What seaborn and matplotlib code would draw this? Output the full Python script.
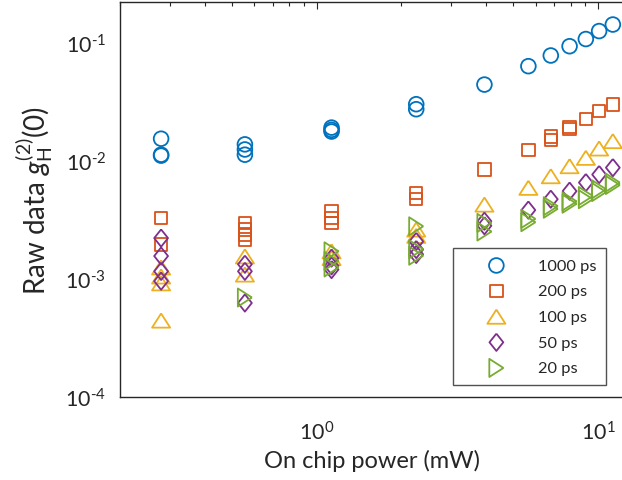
import matplotlib
matplotlib.use("Agg")
import matplotlib.pyplot as plt
import seaborn as sns
import pandas as pd
from matplotlib.ticker import LogLocator, NullFormatter, FixedLocator, FixedFormatter

# ---- data -------------------------------------------------------------
labels = ["1000 ps", "200 ps", "100 ps", "50 ps", "20 ps"]

x_1000 = [0.28, 0.28, 0.28, 0.556, 0.556, 0.556, 1.13, 1.13, 1.13, 2.26, 2.26,
          3.95, 5.66, 6.8, 7.93, 9.06, 10.1, 11.3]
y_1000 = [0.0153, 0.0112, 0.0110, 0.0137, 0.0124, 0.0112, 0.0190, 0.0182, 0.0176,
          0.0300, 0.0272, 0.0440, 0.063, 0.0776, 0.093, 0.107, 0.125, 0.142]

x_200 = [0.28, 0.28, 0.556, 0.556, 0.556, 0.556, 1.13, 1.13, 1.13, 2.26, 2.26,
         3.95, 5.66, 6.8, 6.8, 7.93, 7.93, 9.06, 10.1, 11.3]
y_200 = [0.00327, 0.00194, 0.00296, 0.0026, 0.00236, 0.00214, 0.00372, 0.00327,
         0.00296, 0.0053, 0.0047, 0.0084, 0.0122, 0.0150, 0.0160, 0.0185, 0.0193,
         0.0226, 0.0262, 0.0298]

x_100 = [0.28, 0.28, 0.28, 0.28, 0.556, 0.556, 1.13, 1.13, 2.26, 2.26,
         3.95, 5.66, 6.8, 7.93, 9.06, 10.1, 11.3]
y_100 = [0.00124, 0.00104, 0.00091, 0.00044, 0.00154, 0.00108, 0.0017, 0.00149,
         0.0026, 0.0023, 0.00423, 0.00587, 0.00736, 0.00895, 0.01054, 0.01264, 0.0146]

x_50 = [0.28, 0.28, 0.28, 0.28, 0.556, 0.556, 0.556, 1.13, 1.13, 1.13,
        2.26, 2.26, 2.26, 3.95, 3.95, 5.66, 6.8, 7.93, 9.06, 10.1, 11.3]
y_50 = [0.0022, 0.00155, 0.00115, 0.00095, 0.00132, 0.00115, 0.00062, 0.00149,
        0.00128, 0.00119, 0.00206, 0.00176, 0.0016, 0.00306, 0.0028, 0.0038,
        0.0047, 0.0055, 0.0065, 0.0076, 0.0087]

x_20 = [0.556, 1.13, 1.13, 1.13, 2.26, 2.26, 2.26, 3.95, 3.95, 5.66, 5.66,
        6.8, 6.8, 7.93, 7.93, 9.06, 9.06, 10.1, 10.1, 11.3, 11.3]
y_20 = [0.00069, 0.0017, 0.00141, 0.00124, 0.00277, 0.00177, 0.00156, 0.00296,
        0.0025, 0.0032, 0.0030, 0.0041, 0.0039, 0.0045, 0.0043, 0.0050, 0.0047,
        0.0057, 0.0054, 0.0065, 0.0062]

x_ticks = [1, 10]
x_ticklabels = ["0", "1"]
y_ticks = [1e-4, 1e-3, 1e-2, 1e-1]
y_ticklabels = ["-4", "-3", "-2", "-1"]

xs = [x_1000, x_200, x_100, x_50, x_20]
ys = [y_1000, y_200, y_100, y_50, y_20]

# ---- style ------------------------------------------------------------
colors = ["#0072BD", "#D95319", "#EDB120", "#7E2F8E", "#77AC30"]
tri_up = [(0, 0.78), (-1, -0.78), (1, -0.78), (0, 0.78)]
diamond = [(0, 1), (0.8, 0), (0, -1), (-0.8, 0), (0, 1)]
tri_right = [(0.78, 0), (-0.78, 1), (-0.78, -1), (0.78, 0)]
markers = ["o", "s", tri_up, diamond, tri_right]
msizes = [112, 78, 170, 155, 170]

sns.set_style("white")
plt.rcParams["font.family"] = ["Lato", "DejaVu Sans"]
plt.rcParams["mathtext.fontset"] = "custom"
plt.rcParams["mathtext.rm"] = "Lato"
plt.rcParams["mathtext.it"] = "Lato:italic"
plt.rcParams["mathtext.sf"] = "Lato"

W, H = 622, 481
fig = plt.figure(figsize=(W / 100, H / 100), dpi=100)
ax_left, ax_bottom = 120 / W, (H - 397.5) / H
ax_w, ax_h = 503.2 / W, 394.4 / H
ax = fig.add_axes([ax_left, ax_bottom, ax_w, ax_h])

for lab, x, y, c, m, s in zip(labels, xs, ys, colors, markers, msizes):
    df = pd.DataFrame({"power": x, "g2": y})
    sns.scatterplot(data=df, x="power", y="g2", ax=ax, marker=m, s=s,
                    facecolor="none", edgecolor=c, linewidth=1.3,
                    label=lab, legend=False, zorder=3)

ax.set_xscale("log")
ax.set_yscale("log")
ax.set_xlim(0.2, 12.3)
ax.set_ylim(1e-4, 0.22)

hy = "\u2010"
ax.xaxis.set_major_locator(FixedLocator(x_ticks))
ax.xaxis.set_major_formatter(FixedFormatter(
    [r"$\mathregular{10^{%s}}$" % e for e in x_ticklabels]))
ax.yaxis.set_major_locator(FixedLocator(y_ticks))
ax.yaxis.set_major_formatter(FixedFormatter(
    [r"$\mathregular{10^{%s}}$" % e.replace("-", hy) for e in y_ticklabels]))
ax.yaxis.set_minor_locator(LogLocator(base=10, subs=range(2, 10), numticks=20))
ax.xaxis.set_minor_locator(LogLocator(base=10, subs=range(2, 10), numticks=20))
ax.xaxis.set_minor_formatter(NullFormatter())
ax.yaxis.set_minor_formatter(NullFormatter())

axcol = "#262626"
for side in ["left", "bottom", "top"]:
    ax.spines[side].set_color(axcol)
    ax.spines[side].set_linewidth(1.0)
ax.spines["right"].set_visible(False)

ax.tick_params(which="both", direction="in", top=True, right=False,
               color=axcol, width=0.8)
ax.tick_params(which="major", length=5, labelsize=15.5, labelcolor=axcol)
ax.tick_params(axis="y", which="major", pad=10)
ax.tick_params(axis="x", which="major", pad=17)
ax.tick_params(which="minor", length=3)

ax.set_xlabel("On chip power (mW)", fontsize=17, color=axcol, labelpad=4)
ax.set_ylabel(r"Raw data $g^{(2)}_{\mathrm{H}}\mathregular{(0)}$", fontsize=20,
              color=axcol, labelpad=7)

handles, labs = ax.get_legend_handles_labels()
leg = ax.legend(handles, labs, loc="lower right", bbox_to_anchor=(0.966, 0.029),
                fontsize=11.8, frameon=True, fancybox=False, edgecolor="#262626",
                borderpad=0.6, labelspacing=0.68, handletextpad=0.45,
                borderaxespad=0, handlelength=4.15)
leg.get_frame().set_linewidth(1.0)
for t in leg.get_texts():
    t.set_color(axcol)

fig.savefig("out.png", dpi=100)
